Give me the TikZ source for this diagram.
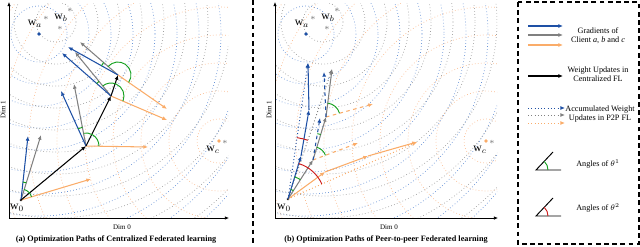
\documentclass[tikz,border=0pt]{standalone}
\usepackage{amsmath,amssymb}
\usepackage{fontspec}
\setmainfont{Liberation Serif}
\usetikzlibrary{arrows.meta,positioning,angles}

\definecolor{gradblue}{RGB}{30,80,165}
\definecolor{gradgray}{RGB}{128,128,128}
\definecolor{gradorange}{RGB}{250,172,105}
\definecolor{ctblue}{RGB}{105,148,215}
\definecolor{ctgray}{RGB}{160,160,160}
\definecolor{ctorange}{RGB}{250,188,145}
\definecolor{anggreen}{RGB}{20,160,30}
\definecolor{angred}{RGB}{205,25,25}

\begin{document}
\begin{tikzpicture}[x=0.03cm, y=-0.03cm,
    every node/.style={font=\fontsize{7}{8}\selectfont, inner sep=1pt},
    grad/.style={line width=0.9pt, -{Latex[length=4pt,width=3.4pt]}},
    accum/.style={line width=0.8pt, dotted, -{Latex[length=4pt,width=3.4pt]}},
    localgrad/.style={line width=0.9pt, dashed, -{Latex[length=4pt,width=3.4pt]}},
    contour/.style={dotted, line width=0.6pt},
    dimaxis/.style={line width=0.6pt, -{Latex[length=3.5pt,width=3pt]}},
    sepline/.style={line width=1.3pt, dash pattern=on 4pt off 3pt},
    green arc/.style={draw=anggreen, line width=0.8pt},
    red arc/.style={draw=angred, line width=0.8pt},
    wlabel/.style={font=\fontsize{10}{11}\selectfont, inner sep=0pt},
    wstar/.style={text=gradgray, font=\fontsize{8}{8}\selectfont, inner sep=0pt},
    wdot/.style={circle, inner sep=0pt, minimum size=3.2pt}]

  \useasboundingbox (0,0) rectangle (640,246);

  % ---------- (a) centralized ----------
  \coordinate (wa1) at (39,34);
  \coordinate (wb1) at (56,22);
  \coordinate (wc1) at (219,141);
  \begin{scope}
    \clip (9,3) rectangle (228,218);
    \foreach \r in {28,50,...,270} \draw[contour, ctblue] (wa1) circle[radius=\r];
    \foreach \r in {20,42,...,270} \draw[contour, ctgray] (wb1) circle[radius=\r];
    \foreach \r in {22,50,...,300} \draw[contour, ctorange] (wc1) circle[radius=\r];
  \end{scope}
  \draw[dimaxis] (9,218) coordinate (oa) -- (229,218) coordinate (xa);
  \draw[dimaxis] (oa) -- (9,2) coordinate (ya);
  \node[font=\fontsize{6}{7}\selectfont] (dim0a) at (122,227) {Dim 0};
  \node[font=\fontsize{6}{7}\selectfont, rotate=90] (dim1a) at (3,110) {Dim 1};

  \node[wdot, fill=gradblue] (dota) at (wa1) {};
  \node[wlabel] (lwa1) at (35,24) {w$_a$};
  \node[wstar] (sa1) at (46,19) {*};
  \node[wstar] (sb1) at (60,29) {*};
  \node[wstar] (sc1) at (70,11) {*};
  \node[wlabel] (lwb1) at (61,18) {w$_b$};
  \node[wdot, fill=gradorange] (dotc) at (wc1) {};
  \node[wstar] (sd1) at (225,143) {*};
  \node[wlabel] (lwc1) at (213,150) {w$_c$};

  \coordinate (w0a) at (21,200);
  \coordinate (p1) at (86,146);
  \coordinate (p2) at (111,96);
  \coordinate (p3) at (118,75);
  \node[wdot, fill=black, minimum size=2.5pt] (d0a) at (w0a) {};
  \node[wlabel] (lw0a) at (17,208) {w$_0$};

  \coordinate (b0) at (28,136);  \coordinate (g0) at (41,135);  \coordinate (o0) at (91,179);
  \coordinate (b1) at (61,91);   \coordinate (g1) at (74,84);   \coordinate (o1) at (148,147);
  \coordinate (b2) at (62,53);   \coordinate (g2) at (75,52);   \coordinate (o2) at (167,120);
  \coordinate (b3) at (68,47);   \coordinate (g3) at (80,42);   \coordinate (o3) at (167,109);

  \draw[grad, gradorange] (w0a) -- (o0);
  \draw[grad, gradorange] (p1) -- (o1);
  \draw[grad, gradorange] (p2) -- (o2);
  \draw[grad, gradorange] (p3) -- (o3);
  \draw[grad, gradgray] (w0a) -- (g0);
  \draw[grad, gradgray] (p1) -- (g1);
  \draw[grad, gradgray] (p2) -- (g2);
  \draw[grad, gradgray] (p3) -- (g3);
  \draw[grad, gradblue] (w0a) -- (b0);
  \draw[grad, gradblue] (p1) -- (b1);
  \draw[grad, gradblue] (p2) -- (b2);
  \draw[grad, gradblue] (p3) -- (b3);

  \draw[grad, black] (w0a) -- (p1);
  \draw[grad, black] (p1) -- (p2);
  \draw[grad, black] (p2) -- (p3);

  \pic[green arc, angle radius=0.33cm] {angle = o0--w0a--g0};
  \pic[green arc, angle radius=0.54cm] {angle = g0--w0a--b0};
  \pic[green arc, angle radius=0.39cm] {angle = o1--p1--g1};
  \pic[green arc, angle radius=0.57cm] {angle = g1--p1--b1};
  \pic[green arc, angle radius=0.39cm] {angle = o2--p2--g2};
  \pic[green arc, angle radius=0.57cm] {angle = g2--p2--b2};
  \pic[green arc, angle radius=0.39cm] {angle = o3--p3--g3};
  \pic[green arc, angle radius=0.57cm] {angle = g3--p3--b3};

  \node[font=\fontsize{7}{8}\selectfont\bfseries] (capa) at (116,240)
    {(a) Optimization Paths of Centralized Federated learning};

  \draw[sepline] (253,0) -- (253,246);

  % ---------- (b) peer-to-peer ----------
  \coordinate (wa2) at (306,34);
  \coordinate (wb2) at (323,22);
  \coordinate (wc2) at (486,141);
  \begin{scope}
    \clip (275,3) rectangle (497,218);
    \foreach \r in {28,50,...,270} \draw[contour, ctblue] (wa2) circle[radius=\r];
    \foreach \r in {20,42,...,270} \draw[contour, ctgray] (wb2) circle[radius=\r];
    \foreach \r in {22,50,...,300} \draw[contour, ctorange] (wc2) circle[radius=\r];
  \end{scope}
  \draw[dimaxis] (275,218) coordinate (ob) -- (498,218) coordinate (xb);
  \draw[dimaxis] (ob) -- (275,2) coordinate (yb);
  \node[font=\fontsize{6}{7}\selectfont] (dim0b) at (389,227) {Dim 0};
  \node[font=\fontsize{6}{7}\selectfont, rotate=90] (dim1b) at (269,110) {Dim 1};

  \node[wdot, fill=gradblue] (dotab) at (wa2) {};
  \node[wlabel] (lwa2) at (302,24) {w$_a$};
  \node[wstar] (sa2) at (313,19) {*};
  \node[wstar] (sb2) at (327,29) {*};
  \node[wstar] (sc2) at (337,11) {*};
  \node[wlabel] (lwb2) at (328,18) {w$_b$};
  \node[wdot, fill=gradorange] (dotcb) at (wc2) {};
  \node[wstar] (sd2) at (492,143) {*};
  \node[wlabel] (lwc2) at (480,150) {w$_c$};

  \coordinate (w0b) at (288,199);
  \node[wdot, fill=black, minimum size=2.5pt] (d0b) at (w0b) {};
  \node[wlabel] (lw0b) at (284,208) {w$_0$};

  \coordinate (q1) at (301,156);  \coordinate (q2) at (309,110);  \coordinate (q3) at (308,63);
  \coordinate (r1) at (313,160);  \coordinate (r2) at (326,117);  \coordinate (r3) at (332,69);
  \coordinate (s1) at (325,172);  \coordinate (s2) at (368,156);  \coordinate (s3) at (417,142);
  \coordinate (u1) at (320,118);  \coordinate (u2) at (324,72);
  \coordinate (v1) at (358,143);  \coordinate (v2) at (373,104);

  \draw[accum, gradorange] (w0b) -- (s3);
  \draw[accum, gradgray] (w0b) -- (r3);
  \draw[accum, gradblue] (w0b) -- (q3);

  \draw[localgrad, gradorange] (r1) -- (v1);
  \draw[localgrad, gradorange] (r2) -- (v2);
  \draw[grad, gradorange] (w0b) -- (s1);
  \draw[grad, gradorange] (s1) -- (s2);
  \draw[grad, gradorange] (s2) -- (s3);
  \draw[grad, gradgray] (w0b) -- (r1);
  \draw[grad, gradgray] (r1) -- (r2);
  \draw[grad, gradgray] (r2) -- (r3);
  \draw[localgrad, gradblue] (r1) -- (u1);
  \draw[localgrad, gradblue] (r2) -- (u2);
  \draw[grad, gradblue] (w0b) -- (q1);
  \draw[grad, gradblue] (q1) -- (q2);
  \draw[grad, gradblue] (q2) -- (q3);

  \pic[green arc, angle radius=0.30cm] {angle = r1--w0b--q1};
  \pic[green arc, angle radius=0.69cm] {angle = r1--w0b--q1};
  \pic[green arc, angle radius=0.40cm] {angle = v1--r1--r2};
  \pic[green arc, angle radius=0.80cm] {angle = r2--r1--u1};
  \pic[green arc, angle radius=0.42cm] {angle = v2--r2--r3};
  \pic[red arc, angle radius=1.11cm] {angle = s3--w0b--q1};
  \pic[red arc, angle radius=1.86cm] {angle = r3--w0b--q3};

  \node[font=\fontsize{7}{8}\selectfont\bfseries] (capb) at (386,240)
    {(b) Optimization Paths of Peer-to-peer Federated learning};

  % ---------- legend ----------
  \draw[sepline] (518,2) rectangle (639,244);

  \coordinate (lg1) at (528,26);  \coordinate (lg1e) at (563,26);
  \coordinate (lg2) at (528,35);  \coordinate (lg2e) at (563,35);
  \coordinate (lg3) at (528,45);  \coordinate (lg3e) at (563,45);
  \draw[grad, gradblue] (lg1) -- (lg1e);
  \draw[grad, gradgray] (lg2) -- (lg2e);
  \draw[grad, gradorange] (lg3) -- (lg3e);
  \node[align=center] (lgradtxt) at (598,36) {Gradients of\\Client \textit{a}, \textit{b} and \textit{c}};

  \coordinate (lu) at (528,76);  \coordinate (lue) at (563,76);
  \draw[grad, black] (lu) -- (lue);
  \node[align=center] (lupdtxt) at (598,74) {Weight Updates in\\Centralized FL};

  \coordinate (la1) at (528,108);  \coordinate (la1e) at (565,108);
  \coordinate (la2) at (528,115);  \coordinate (la2e) at (565,115);
  \coordinate (la3) at (528,123);  \coordinate (la3e) at (565,123);
  \draw[accum, gradblue] (la1) -- (la1e);
  \draw[accum, gradgray] (la2) -- (la2e);
  \draw[accum, gradorange] (la3) -- (la3e);
  \node[align=center] (laccumtxt) at (600,114) {Accumulated Weight\\Updates in P2P FL};

  \coordinate (lt1) at (536,170);  \coordinate (lt1e) at (561,170);  \coordinate (lt1d) at (553,152);
  \draw[line width=0.8pt] (lt1d) -- (lt1) -- (lt1e);
  \pic[green arc, angle radius=0.36cm] {angle = lt1e--lt1--lt1d};
  \node (lth1) at (598,164) {Angles of $\theta^1$};

  \coordinate (lt2) at (536,216);  \coordinate (lt2e) at (561,216);  \coordinate (lt2d) at (553,198);
  \draw[line width=0.8pt] (lt2d) -- (lt2) -- (lt2e);
  \pic[red arc, angle radius=0.36cm] {angle = lt2e--lt2--lt2d};
  \node (lth2) at (598,208) {Angles of $\theta^2$};
\end{tikzpicture}
\end{document}
